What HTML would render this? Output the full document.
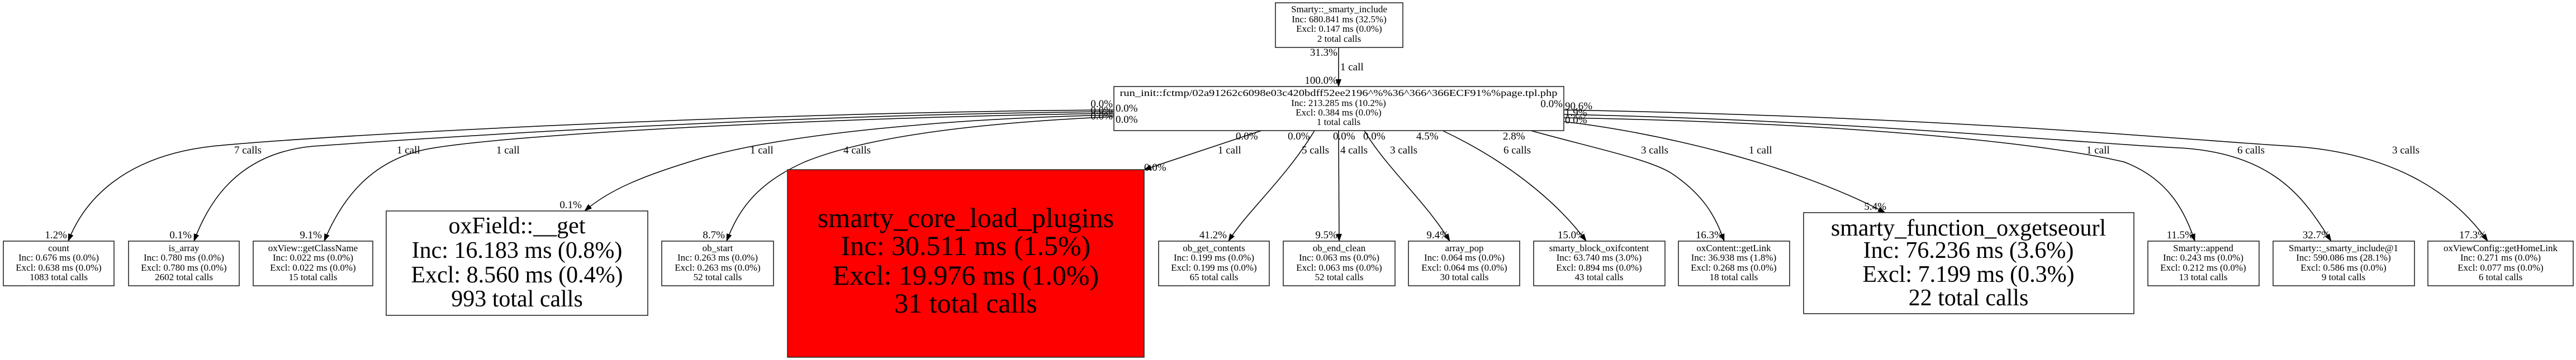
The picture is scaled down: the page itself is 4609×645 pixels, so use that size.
<!DOCTYPE html>
<html><head><meta charset="utf-8"><style>
html,body{margin:0;padding:0;background:#fff;}
svg{display:block;}
text{font-family:"Liberation Serif",serif;fill:#000;}
.s{font-size:17px;text-anchor:middle;}
.l{font-size:19px;}
.b{font-size:42px;text-anchor:middle;}
.r{font-size:50px;text-anchor:middle;}
.e{fill:none;stroke:#000;stroke-width:1.5;}
.n{fill:#fff;stroke:#333;stroke-width:1.7;}
</style></head><body>
<svg width="4609" height="645" viewBox="0 0 4609 645" xmlns="http://www.w3.org/2000/svg">
<defs><marker id="a" markerWidth="14" markerHeight="10" refX="13" refY="5" orient="auto" markerUnits="userSpaceOnUse"><path d="M0,0 L14,5 L0,10 z" fill="#000"/></marker></defs>

<!-- edges -->
<path class="e" d="M2395,85 L2395,155" marker-end="url(#a)"/>
<path class="e" d="M1993,197 C1400,200 600,240 380,262 C220,280 150,360 122,432" marker-end="url(#a)"/>
<path class="e" d="M1993,200 C1400,205 800,245 560,262 C420,275 370,370 347,432" marker-end="url(#a)"/>
<path class="e" d="M1993,203 C1500,210 900,240 760,268 C660,290 610,360 580,432" marker-end="url(#a)"/>
<path class="e" d="M1993,206 C1700,212 1400,240 1250,285 C1150,315 1090,340 1046,378" marker-end="url(#a)"/>
<path class="e" d="M1993,209 C1750,220 1550,245 1440,290 C1350,330 1320,380 1300,432" marker-end="url(#a)"/>
<path class="e" d="M2257,234 L2047,304" marker-end="url(#a)"/>
<path class="e" d="M2352,234 C2300,320 2230,380 2198,432" marker-end="url(#a)"/>
<path class="e" d="M2395,234 L2396,432" marker-end="url(#a)"/>
<path class="e" d="M2441,234 C2480,300 2550,360 2594,432" marker-end="url(#a)"/>
<path class="e" d="M2581,234 C2720,300 2800,380 2838,432" marker-end="url(#a)"/>
<path class="e" d="M2739,234 C2850,265 2950,285 2990,310 C3050,350 3070,390 3085,432" marker-end="url(#a)"/>
<path class="e" d="M2798,218 C2950,235 3200,290 3373,381" marker-end="url(#a)"/>
<path class="e" d="M2798,211 C3300,220 3650,255 3800,290 C3880,320 3910,380 3927,432" marker-end="url(#a)"/>
<path class="e" d="M2798,205 C3300,215 3700,255 3900,265 C4080,275 4130,370 4171,432" marker-end="url(#a)"/>
<path class="e" d="M2798,197 C3500,210 3900,250 4100,262 C4300,275 4400,360 4451,432" marker-end="url(#a)"/>

<!-- nodes -->
<rect class="n" x="2282" y="5" width="228" height="80"/>
<text class="s" x="2396" y="22">Smarty::_smarty_include</text>
<text class="s" x="2396" y="40">Inc: 680.841 ms (32.5%)</text>
<text class="s" x="2396" y="57">Excl: 0.147 ms (0.0%)</text>
<text class="s" x="2396" y="75">2 total calls</text>

<rect class="n" x="1993" y="155" width="805" height="79"/>
<text class="s" x="2395" y="172" textLength="783" lengthAdjust="spacingAndGlyphs">run_init::fctmp/02a91262c6098e03c420bdff52ee2196^%%36^366^366ECF91%%page.tpl.php</text>
<text class="s" x="2395" y="190">Inc: 213.285 ms (10.2%)</text>
<text class="s" x="2395" y="207">Excl: 0.384 ms (0.0%)</text>
<text class="s" x="2395" y="224">1 total calls</text>

<rect class="n" x="6" y="432" width="198" height="80"/>
<text class="s" x="105" y="450">count</text><text class="s" x="105" y="467">Inc: 0.676 ms (0.0%)</text><text class="s" x="105" y="485">Excl: 0.638 ms (0.0%)</text><text class="s" x="105" y="502">1083 total calls</text>

<rect class="n" x="230" y="432" width="198" height="80"/>
<text class="s" x="329" y="450">is_array</text><text class="s" x="329" y="467">Inc: 0.780 ms (0.0%)</text><text class="s" x="329" y="485">Excl: 0.780 ms (0.0%)</text><text class="s" x="329" y="502">2602 total calls</text>

<rect class="n" x="453" y="432" width="214" height="80"/>
<text class="s" x="560" y="450">oxView::getClassName</text><text class="s" x="560" y="467">Inc: 0.022 ms (0.0%)</text><text class="s" x="560" y="485">Excl: 0.022 ms (0.0%)</text><text class="s" x="560" y="502">15 total calls</text>

<rect class="n" x="691" y="378" width="468" height="187"/>
<text class="b" x="925" y="418">oxField::__get</text><text class="b" x="925" y="462">Inc: 16.183 ms (0.8%)</text><text class="b" x="925" y="506">Excl: 8.560 ms (0.4%)</text><text class="b" x="925" y="549">993 total calls</text>

<rect class="n" x="1184" y="432" width="200" height="80"/>
<text class="s" x="1284" y="450">ob_start</text><text class="s" x="1284" y="467">Inc: 0.263 ms (0.0%)</text><text class="s" x="1284" y="485">Excl: 0.263 ms (0.0%)</text><text class="s" x="1284" y="502">52 total calls</text>

<rect x="1409" y="304" width="638" height="336" fill="#ff0000" stroke="#333" stroke-width="1.7"/>
<text class="r" x="1728" y="407">smarty_core_load_plugins</text><text class="r" x="1728" y="457">Inc: 30.511 ms (1.5%)</text><text class="r" x="1728" y="510">Excl: 19.976 ms (1.0%)</text><text class="r" x="1728" y="560">31 total calls</text>

<rect class="n" x="2073" y="432" width="198" height="80"/>
<text class="s" x="2172" y="450">ob_get_contents</text><text class="s" x="2172" y="467">Inc: 0.199 ms (0.0%)</text><text class="s" x="2172" y="485">Excl: 0.199 ms (0.0%)</text><text class="s" x="2172" y="502">65 total calls</text>

<rect class="n" x="2296" y="432" width="200" height="80"/>
<text class="s" x="2396" y="450">ob_end_clean</text><text class="s" x="2396" y="467">Inc: 0.063 ms (0.0%)</text><text class="s" x="2396" y="485">Excl: 0.063 ms (0.0%)</text><text class="s" x="2396" y="502">52 total calls</text>

<rect class="n" x="2520" y="432" width="199" height="80"/>
<text class="s" x="2620" y="450">array_pop</text><text class="s" x="2620" y="467">Inc: 0.064 ms (0.0%)</text><text class="s" x="2620" y="485">Excl: 0.064 ms (0.0%)</text><text class="s" x="2620" y="502">30 total calls</text>

<rect class="n" x="2744" y="432" width="235" height="80"/>
<text class="s" x="2861" y="450">smarty_block_oxifcontent</text><text class="s" x="2861" y="467">Inc: 63.740 ms (3.0%)</text><text class="s" x="2861" y="485">Excl: 0.894 ms (0.0%)</text><text class="s" x="2861" y="502">43 total calls</text>

<rect class="n" x="3003" y="432" width="199" height="80"/>
<text class="s" x="3102" y="450">oxContent::getLink</text><text class="s" x="3102" y="467">Inc: 36.938 ms (1.8%)</text><text class="s" x="3102" y="485">Excl: 0.268 ms (0.0%)</text><text class="s" x="3102" y="502">18 total calls</text>

<rect class="n" x="3227" y="381" width="591" height="181"/>
<text class="b" x="3522" y="422">smarty_function_oxgetseourl</text><text class="b" x="3522" y="462">Inc: 76.236 ms (3.6%)</text><text class="b" x="3522" y="505">Excl: 7.199 ms (0.3%)</text><text class="b" x="3522" y="547">22 total calls</text>

<rect class="n" x="3843" y="432" width="199" height="80"/>
<text class="s" x="3942" y="450">Smarty::append</text><text class="s" x="3942" y="467">Inc: 0.243 ms (0.0%)</text><text class="s" x="3942" y="485">Excl: 0.212 ms (0.0%)</text><text class="s" x="3942" y="502">13 total calls</text>

<rect class="n" x="4067" y="432" width="253" height="80"/>
<text class="s" x="4193" y="450">Smarty::_smarty_include@1</text><text class="s" x="4193" y="467">Inc: 590.086 ms (28.1%)</text><text class="s" x="4193" y="485">Excl: 0.586 ms (0.0%)</text><text class="s" x="4193" y="502">9 total calls</text>

<rect class="n" x="4344" y="432" width="260" height="80"/>
<text class="s" x="4474" y="450">oxViewConfig::getHomeLink</text><text class="s" x="4474" y="467">Inc: 0.271 ms (0.0%)</text><text class="s" x="4474" y="485">Excl: 0.077 ms (0.0%)</text><text class="s" x="4474" y="502">6 total calls</text>

<!-- edge labels -->
<g class="l">
<text x="2393" y="100" text-anchor="end">31.3%</text>
<text x="2398" y="126">1 call</text>
<text x="2393" y="150" text-anchor="end">100.0%</text>

<text x="1991" y="192" text-anchor="end">0.0%</text>
<text x="1991" y="204" text-anchor="end">0.0%</text>
<text x="1991" y="214" text-anchor="end">0.0%</text>
<text x="1996" y="200">0.0%</text>
<text x="1996" y="220">0.0%</text>
<text x="2796" y="192" text-anchor="end">0.0%</text>
<text x="2800" y="196">90.6%</text>
<text x="2800" y="208">1.9%</text>
<text x="2800" y="221">0.0%</text>

<text x="419" y="275">7 calls</text>
<text x="710" y="275">1 call</text>
<text x="888" y="275">1 call</text>
<text x="1342" y="275">1 call</text>
<text x="1509" y="275">4 calls</text>
<text x="2179" y="275">1 call</text>
<text x="2329" y="275">5 calls</text>
<text x="2398" y="275">4 calls</text>
<text x="2487" y="275">3 calls</text>
<text x="2690" y="275">6 calls</text>
<text x="2936" y="275">3 calls</text>
<text x="3129" y="275">1 call</text>
<text x="3733" y="275">1 call</text>
<text x="4003" y="275">6 calls</text>
<text x="4280" y="275">3 calls</text>

<text x="2211" y="250">0.0%</text>
<text x="2304" y="250">0.0%</text>
<text x="2385" y="250">0.0%</text>
<text x="2439" y="250">0.0%</text>
<text x="2534" y="250">4.5%</text>
<text x="2689" y="250">2.8%</text>

<text x="120" y="427" text-anchor="end">1.2%</text>
<text x="343" y="427" text-anchor="end">0.1%</text>
<text x="576" y="427" text-anchor="end">9.1%</text>
<text x="1041" y="373" text-anchor="end">0.1%</text>
<text x="1297" y="427" text-anchor="end">8.7%</text>
<text x="2047" y="306">0.0%</text>
<text x="2195" y="427" text-anchor="end">41.2%</text>
<text x="2393" y="427" text-anchor="end">9.5%</text>
<text x="2592" y="427" text-anchor="end">9.4%</text>
<text x="2836" y="427" text-anchor="end">15.0%</text>
<text x="3083" y="427" text-anchor="end">16.3%</text>
<text x="3375" y="376" text-anchor="end">5.4%</text>
<text x="3925" y="427" text-anchor="end">11.5%</text>
<text x="4169" y="427" text-anchor="end">32.7%</text>
<text x="4449" y="427" text-anchor="end">17.3%</text>
</g>
</svg>
</body></html>
